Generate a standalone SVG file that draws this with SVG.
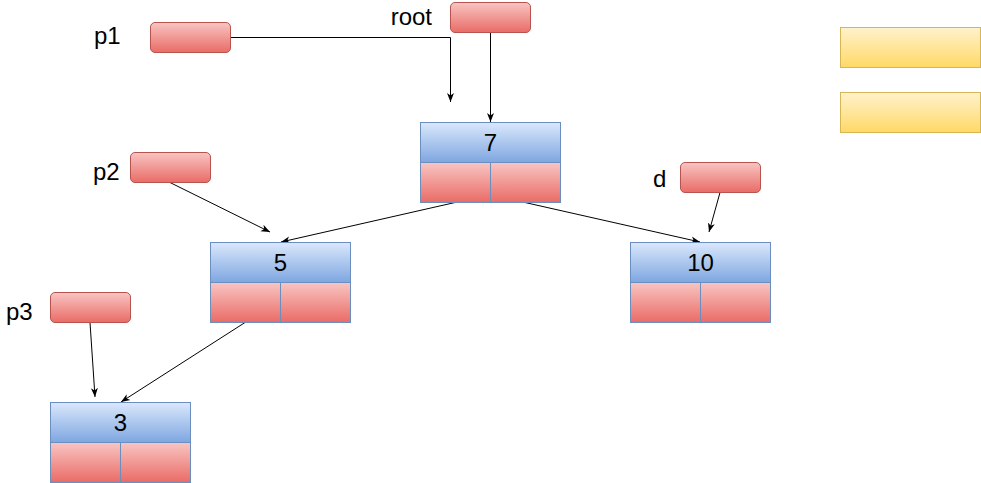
<svg xmlns="http://www.w3.org/2000/svg" width="981" height="483" viewBox="0 0 981 483">
<defs>
<linearGradient id="gRed" x1="0" y1="0" x2="0" y2="1"><stop offset="0" stop-color="#f8c5c3"/><stop offset="1" stop-color="#ea6b66"/></linearGradient>
<linearGradient id="gBlue" x1="0" y1="0" x2="0" y2="1"><stop offset="0" stop-color="#dae8fc"/><stop offset="1" stop-color="#7ea6e0"/></linearGradient>
<linearGradient id="gYel" x1="0" y1="0" x2="0" y2="1"><stop offset="0" stop-color="#fff2cc"/><stop offset="1" stop-color="#ffd966"/></linearGradient>
<marker id="arr" markerWidth="10" markerHeight="10" viewBox="0 0 10 10" refX="9" refY="5" orient="auto" markerUnits="userSpaceOnUse"><path d="M0,1.5 L9,5 L0,8.5 L2.5,5 Z" fill="#000"/></marker>
</defs>
<style>
.ptr{fill:url(#gRed);stroke:#b85450;stroke-width:1}
.hdr{fill:url(#gBlue);stroke:#6c8ebf;stroke-width:1}
.cell{fill:url(#gRed);stroke:#6c8ebf;stroke-width:1}
.yel{fill:url(#gYel);stroke:#d6b656;stroke-width:1}
.lbl{font-family:"Liberation Sans",Arial,sans-serif;font-size:24px;fill:#000}
.val{font-family:"Liberation Sans",Arial,sans-serif;font-size:24px;fill:#000;text-anchor:middle}
.con{fill:none;stroke:#000;stroke-width:1;marker-end:url(#arr)}
</style>
<g id="connectors">
<path class="con" d="M230.5,37.5 H450.5 V102"/>
<path class="con" d="M490.5,32.5 V122"/>
<path class="con" d="M170,182.5 L270,232"/>
<path class="con" d="M720,192.5 L709,232"/>
<path class="con" d="M455,202.5 L281,242"/>
<path class="con" d="M525,202.5 L700,242"/>
<path class="con" d="M90,322.5 L95,397"/>
<path class="con" d="M245,322.5 L121,402"/>
</g>
<g id="p1"><text class="lbl" x="94" y="44">p1</text><rect class="ptr" x="150.5" y="22.5" width="80" height="30" rx="4.5"/></g>
<g id="root"><text class="lbl" x="432" y="25" text-anchor="end">root</text><rect class="ptr" x="450.5" y="2.5" width="80" height="30" rx="4.5"/></g>
<g id="p2"><text class="lbl" x="93" y="180">p2</text><rect class="ptr" x="130.5" y="152.5" width="80" height="30" rx="4.5"/></g>
<g id="d"><text class="lbl" x="653" y="187">d</text><rect class="ptr" x="680.5" y="162.5" width="80" height="30" rx="4.5"/></g>
<g id="p3"><text class="lbl" x="6" y="320">p3</text><rect class="ptr" x="50.5" y="292.5" width="80" height="30" rx="4.5"/></g>
<g id="node7"><rect class="hdr" x="420.5" y="122.5" width="140" height="40"/><rect class="cell" x="420.5" y="162.5" width="70" height="40"/><rect class="cell" x="490.5" y="162.5" width="70" height="40"/><text class="val" x="490.5" y="151">7</text></g>
<g id="node5"><rect class="hdr" x="210.5" y="242.5" width="140" height="40"/><rect class="cell" x="210.5" y="282.5" width="70" height="40"/><rect class="cell" x="280.5" y="282.5" width="70" height="40"/><text class="val" x="280.5" y="271">5</text></g>
<g id="node10"><rect class="hdr" x="630.5" y="242.5" width="140" height="40"/><rect class="cell" x="630.5" y="282.5" width="70" height="40"/><rect class="cell" x="700.5" y="282.5" width="70" height="40"/><text class="val" x="700.5" y="271">10</text></g>
<g id="node3"><rect class="hdr" x="50.5" y="402.5" width="140" height="40"/><rect class="cell" x="50.5" y="442.5" width="70" height="40"/><rect class="cell" x="120.5" y="442.5" width="70" height="40"/><text class="val" x="120.5" y="431">3</text></g>
<g id="y1"><rect class="yel" x="840.5" y="27.5" width="140" height="40"/></g>
<g id="y2"><rect class="yel" x="840.5" y="92.5" width="140" height="40"/></g>
</svg>
